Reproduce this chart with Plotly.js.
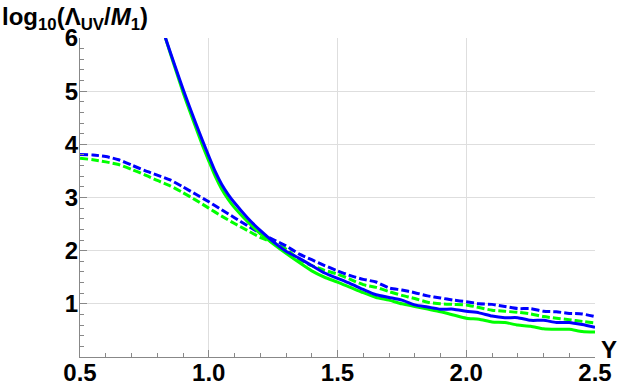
<!DOCTYPE html>
<html>
<head>
<meta charset="utf-8">
<script src="https://cdn.plot.ly/plotly-3.0.1.min.js"></script>
<style>
  body { margin: 0; background: #fff; }
  #plot { width: 620px; height: 389px; }
</style>
</head>
<body>
<div id="plot"></div>
<script>
// dashed curves, Y from 0.5 to 2.5
let yDash = [0.5, 0.55, 0.6, 0.65, 0.7, 0.75, 0.8, 0.85, 0.9, 0.95, 1.0, 1.05, 1.1, 1.15, 1.2, 1.25, 1.3, 1.35, 1.4, 1.45,
             1.5, 1.55, 1.6, 1.65, 1.7, 1.75, 1.8, 1.85, 1.9, 1.95, 2.0, 2.05, 2.1, 2.15, 2.2, 2.25, 2.3, 2.35, 2.4, 2.45, 2.5];
let blueDash = [3.81, 3.80, 3.77, 3.71, 3.61, 3.51, 3.42, 3.33, 3.20, 3.06, 2.92, 2.77, 2.62, 2.47, 2.33, 2.21, 2.09, 1.94, 1.83, 1.72,
                1.62, 1.53, 1.46, 1.41, 1.30, 1.26, 1.21, 1.15, 1.11, 1.07, 1.04, 1.00, 0.99, 0.95, 0.91, 0.91, 0.86, 0.85, 0.82, 0.81, 0.76];
let greenDash = [3.74, 3.71, 3.67, 3.62, 3.53, 3.43, 3.32, 3.22, 3.09, 2.95, 2.80, 2.65, 2.51, 2.38, 2.25, 2.15, 2.03, 1.84, 1.72, 1.63,
                 1.56, 1.46, 1.36, 1.31, 1.23, 1.16, 1.10, 1.03, 1.00, 0.99, 0.98, 0.93, 0.88, 0.86, 0.84, 0.81, 0.76, 0.73, 0.70, 0.67, 0.64];

// solid curves (run off the top of the frame)
let ySolid = [0.8, 0.832, 0.85, 0.875, 0.9, 0.925, 0.95, 0.975, 1.0, 1.025, 1.05, 1.075, 1.1, 1.15, 1.2, 1.25, 1.3, 1.35, 1.4, 1.45,
              1.5, 1.55, 1.6, 1.65, 1.7, 1.75, 1.8, 1.85, 1.9, 1.95, 2.0, 2.05, 2.1, 2.15, 2.2, 2.25, 2.3, 2.35, 2.4, 2.45, 2.5];
let blueSolid = [6.5, 6.0, 5.74, 5.39, 5.04, 4.71, 4.39, 4.08, 3.78, 3.49, 3.25, 3.06, 2.90, 2.62, 2.38, 2.17, 1.99, 1.86, 1.72, 1.58,
                 1.48, 1.38, 1.27, 1.17, 1.12, 1.07, 0.98, 0.94, 0.90, 0.90, 0.86, 0.83, 0.77, 0.74, 0.74, 0.69, 0.69, 0.65, 0.65, 0.61, 0.56];
let greenSolid = [6.5, 6.0, 5.72, 5.35, 4.98, 4.64, 4.31, 3.99, 3.69, 3.40, 3.16, 2.97, 2.81, 2.55, 2.32, 2.13, 1.95, 1.78, 1.62, 1.50,
                  1.41, 1.31, 1.21, 1.12, 1.07, 1.00, 0.95, 0.90, 0.85, 0.79, 0.73, 0.71, 0.66, 0.65, 0.60, 0.58, 0.53, 0.52, 0.52, 0.48, 0.47];

let xTicks = [0.5, 1.0, 1.5, 2.0, 2.5];
let yTicks = [1, 2, 3, 4, 5, 6];

function makeLine(xs, ys, color, dash)
{
    return {
        x: xs,
        y: ys,
        mode: 'lines',
        type: 'scatter',
        hoverinfo: 'skip',
        line: { color: color, width: 3, dash: dash, shape: 'spline', smoothing: 0.6 }
    };
}

let data = [
    makeLine(yDash, greenDash, '#00ff00', '8px,3px'),
    makeLine(yDash, blueDash, '#0000ff', '8px,3px'),
    makeLine(ySolid, greenSolid, '#00ff00', 'solid'),
    makeLine(ySolid, blueSolid, '#0000ff', 'solid')
];

let tickFont = { family: 'Liberation Sans, Arial, sans-serif', size: 24, color: '#000', weight: 'bold' };

let layout = {
    width: 620,
    height: 389,
    margin: { l: 80, r: 25, t: 38, b: 32 },
    paper_bgcolor: '#fff',
    plot_bgcolor: '#fff',
    showlegend: false,
    xaxis: {
        range: [0.5, 2.5],
        tickvals: xTicks,
        ticktext: xTicks.map(v => v.toFixed(1)),
        tickfont: tickFont,
        ticks: 'inside',
        ticklen: 7,
        tickcolor: '#888',
        ticklabelstandoff: -6,
        minor: { dtick: 0.1, tick0: 0.5, ticks: 'inside', ticklen: 4, tickcolor: '#888', showgrid: false },
        showline: true,
        linecolor: '#888',
        linewidth: 1,
        showgrid: true,
        gridcolor: '#dedede',
        zeroline: false
    },
    yaxis: {
        range: [0, 6],
        tickvals: yTicks,
        tickfont: tickFont,
        ticks: 'inside',
        ticklen: 7,
        tickcolor: '#888',
        ticklabelstandoff: -4,
        minor: { dtick: 0.2, tick0: 0, ticks: 'inside', ticklen: 4, tickcolor: '#888', showgrid: false },
        showline: true,
        linecolor: '#888',
        linewidth: 1,
        showgrid: true,
        gridcolor: '#dedede',
        zeroline: false
    },
    annotations: [
        {
            text: 'log<sub>10</sub>(Λ<sub>UV</sub>/<i>M</i><sub>1</sub>)',
            xref: 'paper', yref: 'paper',
            x: -0.155, y: 1.062,
            xanchor: 'left', yanchor: 'middle',
            showarrow: false,
            font: tickFont
        },
        {
            text: 'Y',
            xref: 'paper', yref: 'paper',
            x: 1.027, y: 0.025,
            xanchor: 'center', yanchor: 'middle',
            showarrow: false,
            font: tickFont
        }
    ]
};

Plotly.newPlot('plot', data, layout, { staticPlot: true });
</script>
</body>
</html>
